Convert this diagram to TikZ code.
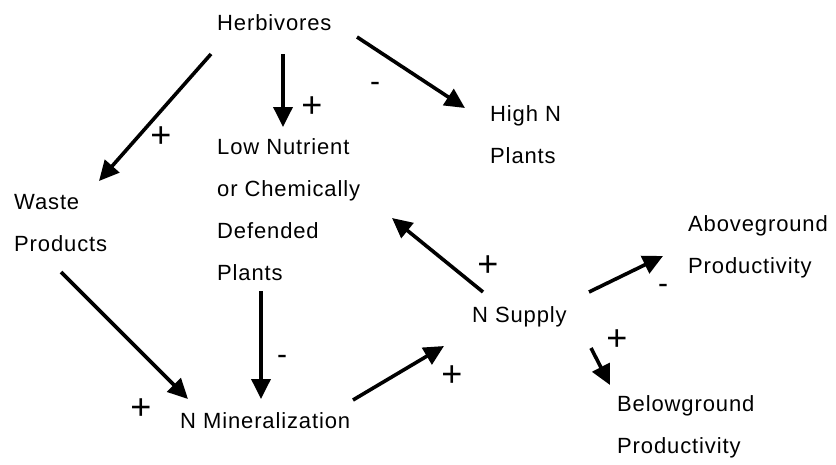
\documentclass[tikz,border=0pt]{standalone}
\usepackage{fontspec}
\setmainfont[LetterSpace=4]{Liberation Sans}
\usetikzlibrary{arrows.meta}
\begin{document}
\begin{tikzpicture}[x=1pt,y=-1pt,
  lbl/.style={inner sep=0pt, anchor=base west, align=left,
    font=\fontsize{22}{42}\selectfont},
  sgn/.style={inner sep=0pt, font=\fontsize{30}{30}\selectfont},
  plus/.style={sgn, font=\fontsize{36}{36}\selectfont},
  arr/.style={line width=3.6pt, -{Triangle[length=20pt,width=19pt]}}]
\useasboundingbox (0,0) rectangle (836,464);

% variables (anchored at the baseline of the last line)
\node[lbl] (herb)  at (217,30)  {Herbivores};
\node[lbl] (low)   at (217,280) {Low Nutrient\\or Chemically\\Defended\\Plants};
\node[lbl] (highn) at (490,163) {High N\\Plants};
\node[lbl] (waste) at (14,251)  {Waste\\Products};
\node[lbl] (above) at (688,273) {Aboveground\\Productivity};
\node[lbl] (nsup)  at (472,322) {N Supply};
\node[lbl] (below) at (617,453) {Belowground\\Productivity};
\node[lbl] (nmin)  at (180,428) {N Mineralization};

% arrow ends
\coordinate (herbA) at (211,54);
\coordinate (herbB) at (283,54);
\coordinate (herbC) at (357,37);
\coordinate (wasteIn) at (99,181);
\coordinate (lowIn) at (283,127);
\coordinate (highIn) at (465,108);
\coordinate (nsupOutL) at (483,292);
\coordinate (lowInR) at (392,218);
\coordinate (wasteOut) at (61,272);
\coordinate (nminInL) at (188,399);
\coordinate (lowOut) at (261,291);
\coordinate (nminInT) at (261,399);
\coordinate (nminOut) at (353,400);
\coordinate (nsupIn) at (444,346);
\coordinate (nsupOutA) at (589,292);
\coordinate (aboveIn) at (663,256);
\coordinate (nsupOutB) at (591,348);
\coordinate (belowIn) at (610,385);

% influences
\draw[arr] (herbA) -- (wasteIn);
\draw[arr] (herbB) -- (lowIn);
\draw[arr] (herbC) -- (highIn);
\draw[arr] (nsupOutL) -- (lowInR);
\draw[arr] (wasteOut) -- (nminInL);
\draw[arr] (lowOut) -- (nminInT);
\draw[arr] (nminOut) -- (nsupIn);
\draw[arr] (nsupOutA) -- (aboveIn);
\draw[arr] (nsupOutB) -- (belowIn);

% signs
\node[plus] (s1) at (161,137) {+};
\node[plus] (s2) at (312,107) {+};
\node[sgn]  (s3) at (375,87)  {-};
\node[plus] (s4) at (488,266) {+};
\node[plus] (s5) at (141,409) {+};
\node[sgn]  (s6) at (282,360) {-};
\node[plus] (s7) at (452,376) {+};
\node[sgn]  (s8) at (663,289) {-};
\node[plus] (s9) at (617,340) {+};
\end{tikzpicture}
\end{document}
